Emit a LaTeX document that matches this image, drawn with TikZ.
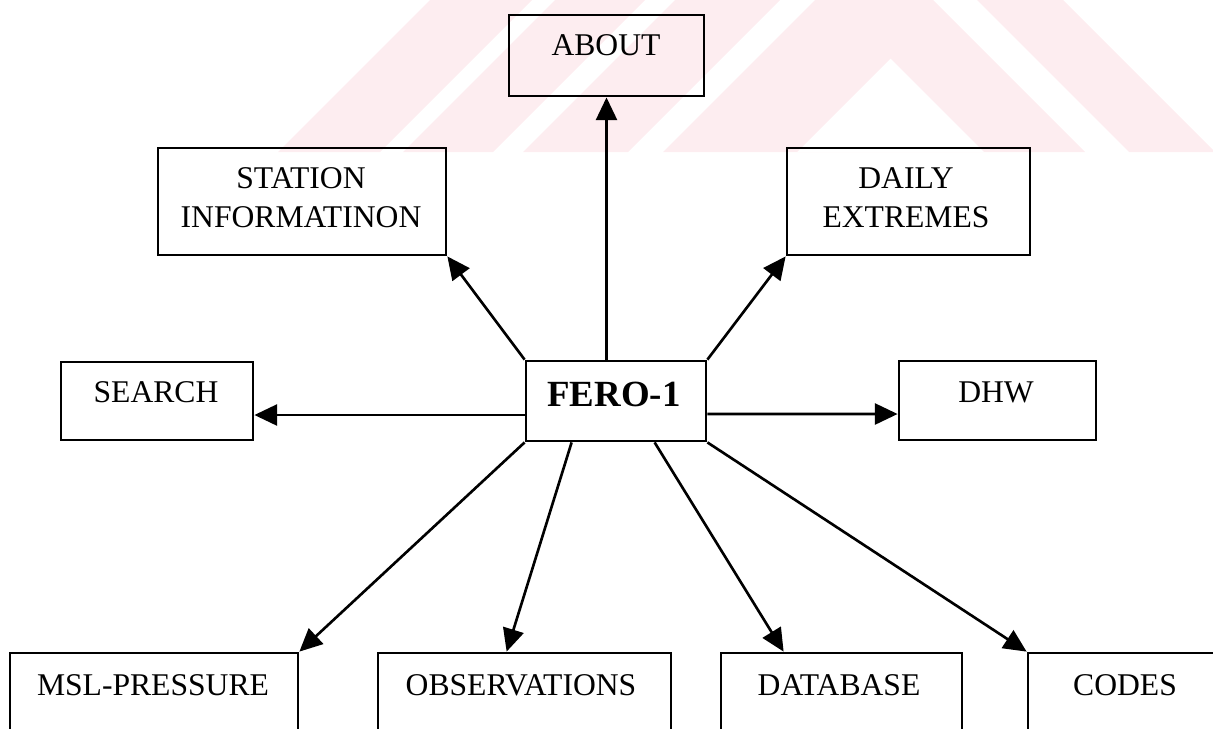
\documentclass[tikz,border=0pt]{standalone}
\usepackage{fontspec}
\setmainfont{Liberation Serif}
\usetikzlibrary{arrows.meta,calc}
\definecolor{wmpink}{RGB}{253,237,240}
\begin{document}
\begin{tikzpicture}[x=0.02cm,y=-0.02cm,
  box/.style={draw, line width=1.6pt, rectangle, inner sep=0pt},
  lbl/.style={inner sep=0pt, anchor=base, align=center,
              font=\fontsize{18}{22}\selectfont},
  hub/.style={inner sep=0pt, anchor=base, font=\fontsize{21}{24}\selectfont\bfseries},
  arr/.style={-{Triangle[length=13pt,width=12pt]}, line width=1.5pt}]
\useasboundingbox (0,0) rectangle (1213,728);
\clip (0,0) rectangle (1213,728);

% pale background stripes
\fill[wmpink] (430,0) -- (532,0) -- (380,152) -- (278,152) -- cycle;
\fill[wmpink] (555,0) -- (645,0) -- (493,152) -- (403,152) -- cycle;
\fill[wmpink] (675,0) -- (780,0) -- (628,152) -- (523,152) -- cycle;
\fill[wmpink, even odd rule] (815,0) -- (933,0) -- (1085,152) -- (663,152) -- cycle
  (890.5,58.5) -- (984,152) -- (797,152) -- cycle;
\fill[wmpink] (977,0) -- (1063,0) -- (1215,152) -- (1129,152) -- cycle;

% boxes
\node[box, minimum width=3.90cm, minimum height=1.62cm] (about)   at (606.5,55.5) {};
\node[box, minimum width=5.76cm, minimum height=2.14cm] (station) at (302,201.5) {};
\node[box, minimum width=4.86cm, minimum height=2.14cm] (daily)   at (908.5,201.5) {};
\node[box, minimum width=3.84cm, minimum height=1.56cm] (search)  at (157,401) {};
\node[box, minimum width=3.94cm, minimum height=1.58cm] (dhw)     at (997.5,400.5) {};
\node[box, minimum width=3.60cm, minimum height=1.60cm] (fero)    at (616,401) {};
\node[box, minimum width=5.76cm, minimum height=1.84cm] (msl)     at (154,699) {};
\node[box, minimum width=5.86cm, minimum height=1.84cm] (obs)     at (524.5,699) {};
\node[box, minimum width=4.82cm, minimum height=1.84cm] (db)      at (841.5,699) {};
\node[box, minimum width=4.44cm, minimum height=1.84cm] (codes)   at (1139,699) {};

% labels (base anchor sits on the last line)
\node[lbl] (about-t)   at (606,55)  {ABOUT};
\node[lbl] (station-t) at (301,227) {STATION\\INFORMATINON};
\node[lbl] (daily-t)   at (906,227) {DAILY\\EXTREMES};
\node[lbl] (search-t)  at (156,402) {SEARCH};
\node[lbl] (dhw-t)     at (996,402) {DHW};
\node[hub] (fero-t)    at (614,406) {FERO-1};
\node[lbl] (msl-t)     at (153,695) {MSL-PRESSURE};
\node[lbl] (obs-t)     at (521,695) {OBSERVATIONS};
\node[lbl] (db-t)      at (839,695) {DATABASE};
\node[lbl] (codes-t)   at (1125,695) {CODES};

% connectors
\draw[arr] (fero.north -| about.south) -- (about.south);
\draw[arr] (fero.north west) -- (station.south east);
\draw[arr] (fero.north east) -- (daily.south west);
\draw[arr] ($(fero.west)+(0,14)$) -- ($(search.east)+(0,14)$);
\draw[arr] ($(fero.east)+(0,13)$) -- ($(dhw.west)+(0,13.5)$);
\draw[arr] (fero.south west) -- (msl.north east);
\draw[arr] ($(fero.south west)+(47,0)$) -- ($(obs.north west)+(130,0)$);
\draw[arr] ($(fero.south west)+(130,0)$) -- ($(db.north west)+(64,0)$);
\draw[arr] (fero.south east) -- (codes.north west);
\end{tikzpicture}
\end{document}
